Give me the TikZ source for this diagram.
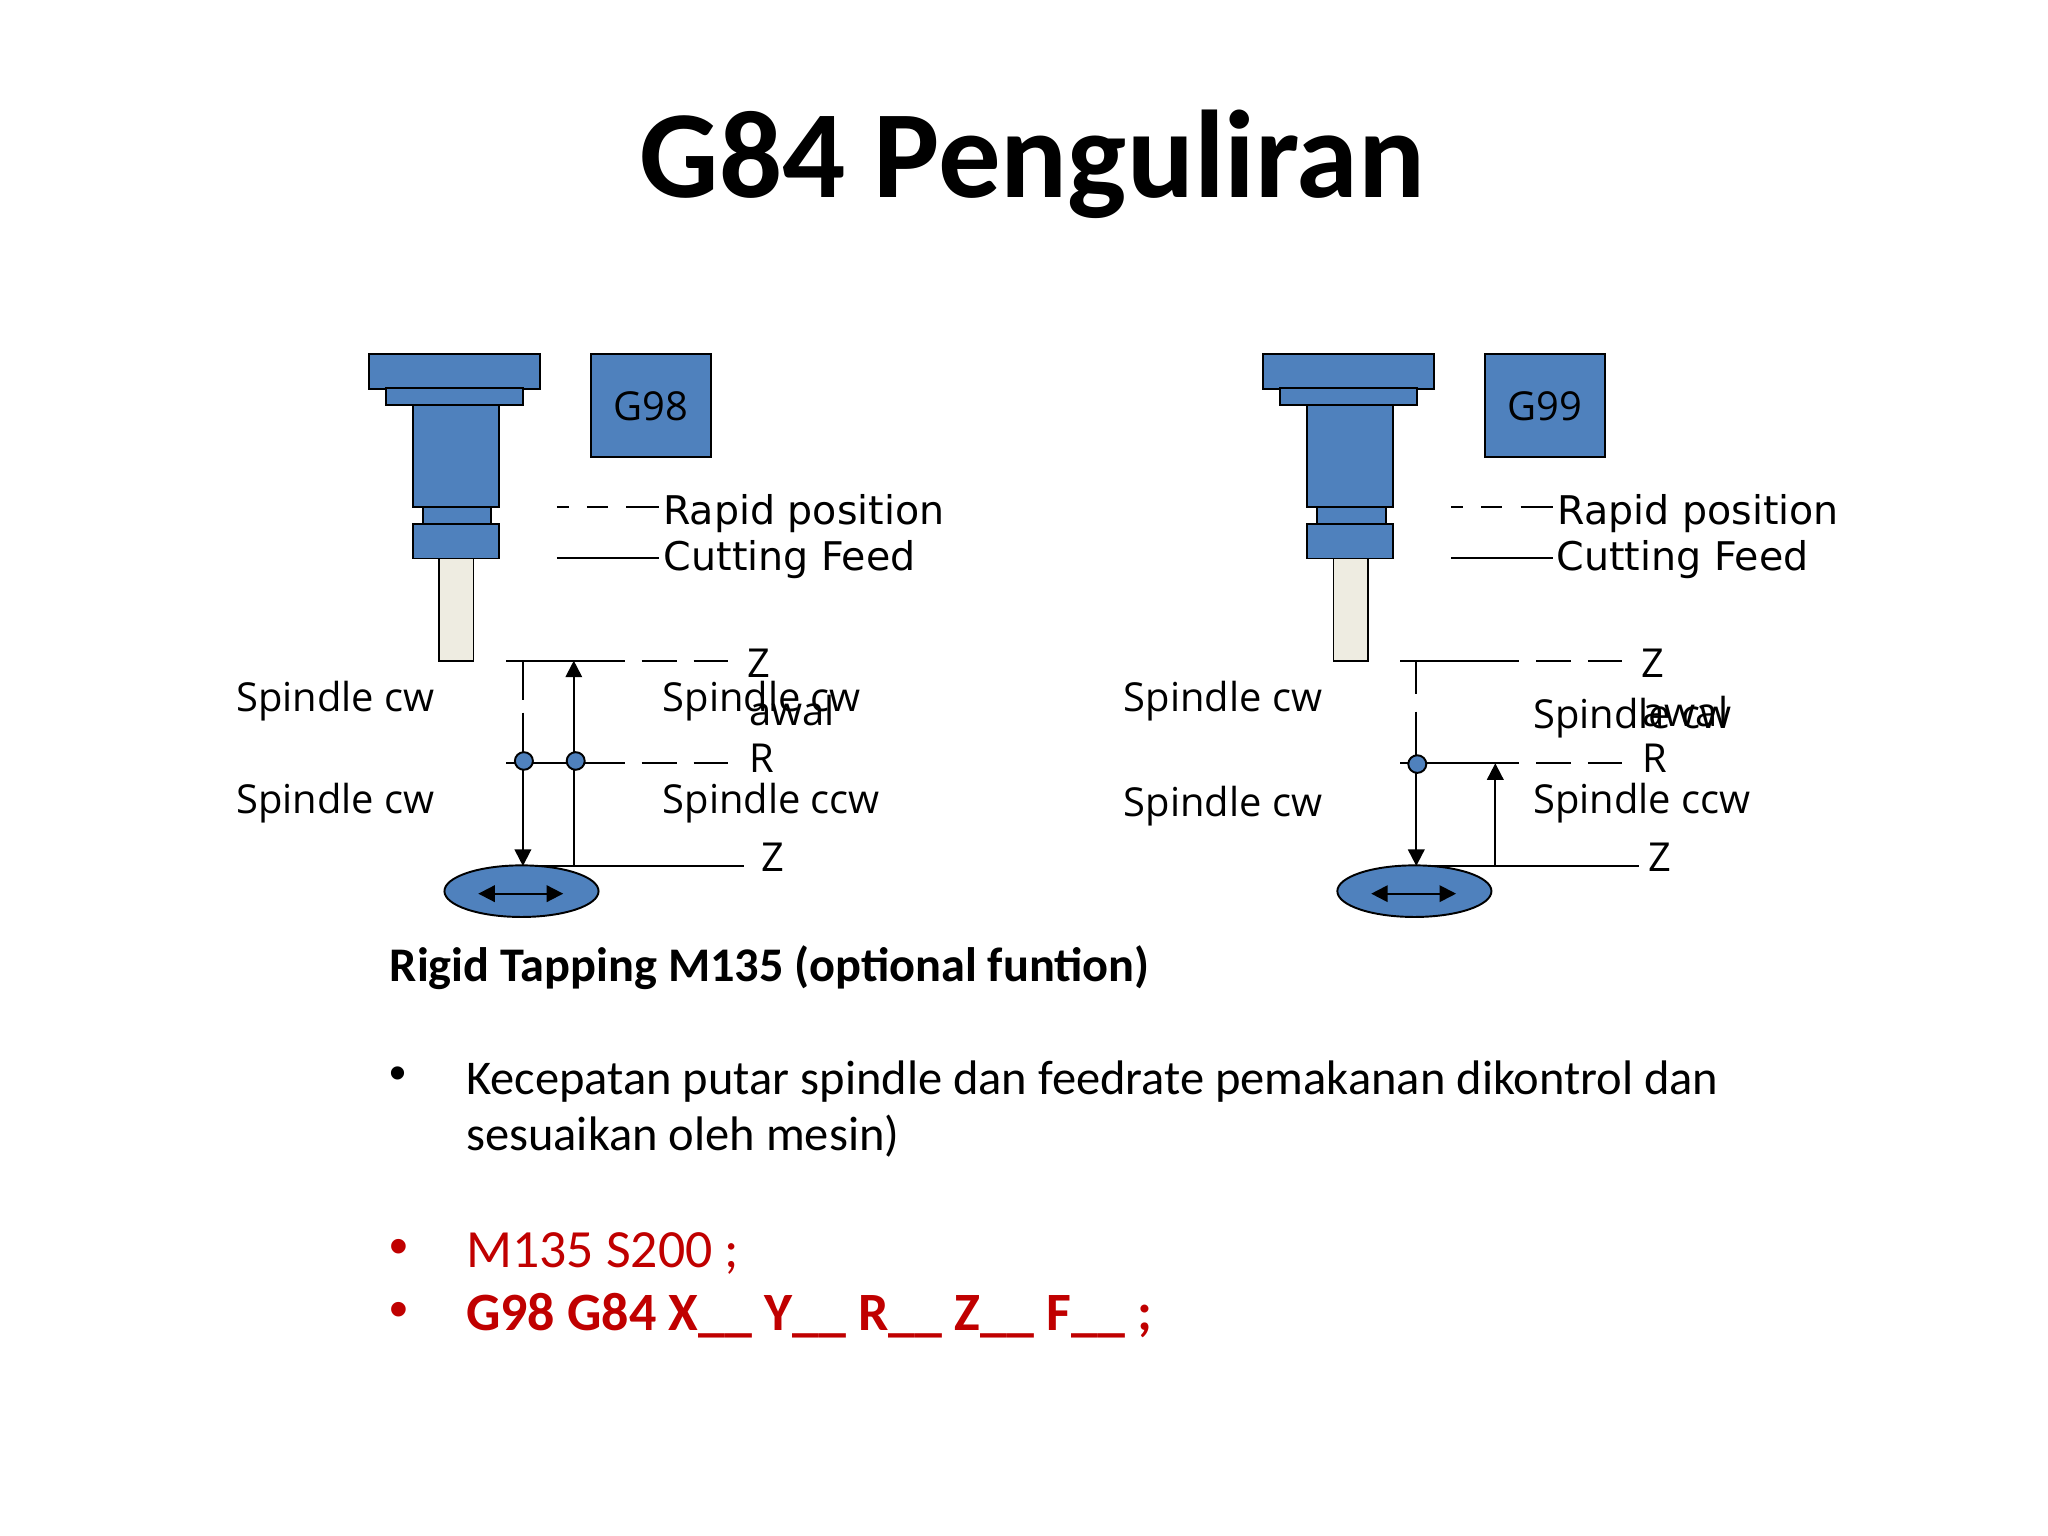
\documentclass[tikz,border=0pt]{standalone}
\usepackage{fontspec}
\usetikzlibrary{shapes.geometric, arrows.meta}
\setmainfont{Carlito}
\newfontfamily\labelfont{Open Sans}
\newfontfamily\legendfont{DejaVu Sans}
\newfontfamily\dotfont{Liberation Sans}
\definecolor{toolblue}{HTML}{4F81BD}
\definecolor{tapcream}{HTML}{EEECE1}
\definecolor{coderred}{HTML}{C00000}
\tikzset{
	part/.style={shape=rectangle, draw, line width=0.55pt, fill=toolblue, inner sep=0pt, outer sep=0pt},
	tapbit/.style={part, fill=tapcream},
	oval/.style={shape=ellipse, draw, line width=0.55pt, fill=toolblue, inner sep=0pt, outer sep=0pt},
	lbl/.style={anchor=base west, inner sep=0pt, yshift=-0.013cm, font=\labelfont\fontsize{11.35}{14}\selectfont},
	legendlbl/.style={anchor=base west, inner sep=0pt, yshift=-0.013cm, font=\legendfont\fontsize{11.25}{14}\selectfont},
	wire/.style={line width=0.55pt},
	level/.style={wire, dash pattern=on 1.187cm off 0.17cm on 0.348cm off 0.17cm on 0.34cm},
	legenddash/.style={wire, dash pattern=on 0.12cm off 0.18cm on 0.21cm off 0.184cm on 0.324cm},
	feed/.style={wire, -{Triangle[length=0.165cm, width=0.165cm]}},
	both/.style={wire, {Triangle[length=0.165cm, width=0.165cm]}-{Triangle[length=0.165cm, width=0.165cm]}},
	body/.style={anchor=base west, inner sep=0pt, yshift=-0.01cm, font=\fontsize{13.8}{16}\selectfont},
	bodyred/.style={body, text=coderred, font=\fontsize{15.3}{18}\selectfont}
}
\begin{document}
\begin{tikzpicture}
	\useasboundingbox (0, 0) rectangle (20.48, 15.36);
	% Title:
	\node[anchor=base, inner sep=0pt, font=\bfseries\fontsize{35.5}{40}\selectfont] (title) at (10.325, 13.385){G84 Penguliran};
	% Left tool, G98:
	\node[part, minimum width=1.716cm, minimum height=0.348cm] (flangeA) at (4.545, 11.648){};
	\node[part, minimum width=1.371cm, minimum height=0.168cm] (ringA) at (4.543, 11.393){};
	\node[part, minimum width=0.857cm, minimum height=1.022cm] (bodyA) at (4.558, 10.799){};
	\node[part, minimum width=0.689cm, minimum height=0.168cm] (neckA) at (4.57, 10.204){};
	\node[part, minimum width=0.857cm, minimum height=0.344cm] (collarA) at (4.558, 9.947){};
	\node[tapbit, minimum width=0.344cm, minimum height=1.022cm] (tapA) at (4.563, 9.264){};
	\node[part, minimum width=1.202cm, minimum height=1.029cm, text height=0.306cm, font=\labelfont\fontsize{11.35}{14}\selectfont] (modeA) at (6.507, 11.307){G98};
	\coordinate (rapidsA) at (5.568, 10.287);
	\coordinate (rapideA) at (6.586, 10.287);
	\coordinate (cutsA) at (5.568, 9.779);
	\coordinate (cuteA) at (6.586, 9.779);
	\draw[legenddash] (rapidsA) -- (rapideA);
	\draw[wire] (cutsA) -- (cuteA);
	\node[legendlbl] (rapidA) at (6.625, 10.131){Rapid position};
	\node[legendlbl] (cuttingA) at (6.632, 9.664){Cutting Feed};
	\coordinate (topsA) at (5.06, 8.753);
	\coordinate (topeA) at (7.275, 8.753);
	\coordinate (rsA) at (5.06, 7.727);
	\coordinate (reA) at (7.275, 7.727);
	\coordinate (botsA) at (5.06, 6.7);
	\coordinate (boteA) at (7.444, 6.7);
	\draw[level] (topsA) -- (topeA);
	\draw[level] (rsA) -- (reA);
	\draw[wire] (botsA) -- (boteA);
	\coordinate (downsA) at (5.229, 8.753);
	\coordinate (downeA) at (5.229, 6.7);
	\coordinate (upsA) at (5.738, 6.7);
	\coordinate (upeA) at (5.738, 8.753);
	\draw[feed, dash pattern=on 0.39cm off 0.13cm on 3cm] (downsA) -- (downeA);
	\draw[feed] (upsA) -- (upeA);
	\node[oval, minimum width=0.18cm, minimum height=0.176cm] (dotaA) at (5.239, 7.75){};
	\node[oval, minimum width=0.18cm, minimum height=0.176cm] (dotbA) at (5.757, 7.75){};
	\node[oval, minimum width=1.541cm, minimum height=0.516cm] (workA) at (5.215, 6.448){};
	\coordinate (shiftlA) at (4.783, 6.423);
	\coordinate (shiftrA) at (5.632, 6.423);
	\draw[both] (shiftlA) -- (shiftrA);
	\node[lbl] (cwaA) at (2.358, 8.256){Spindle cw};
	\node[lbl] (cwbA) at (2.358, 7.234){Spindle cw};
	\node[lbl] (cwcA) at (6.62, 8.256){Spindle cw};
	\node[lbl] (ccwA) at (6.62, 7.234){Spindle ccw};
	\node[lbl] (ztopA) at (7.47, 8.6){Z};
	\node[lbl] (awalA) at (7.483, 8.121){awal};
	\node[lbl] (rA) at (7.49, 7.647){R};
	\node[lbl] (zbotA) at (7.61, 6.66){Z};
	% Right tool, G99:
	\node[part, minimum width=1.716cm, minimum height=0.348cm] (flangeB) at (13.485, 11.648){};
	\node[part, minimum width=1.371cm, minimum height=0.168cm] (ringB) at (13.487, 11.393){};
	\node[part, minimum width=0.857cm, minimum height=1.022cm] (bodyB) at (13.502, 10.799){};
	\node[part, minimum width=0.689cm, minimum height=0.168cm] (neckB) at (13.514, 10.204){};
	\node[part, minimum width=0.857cm, minimum height=0.344cm] (collarB) at (13.502, 9.947){};
	\node[tapbit, minimum width=0.344cm, minimum height=1.022cm] (tapB) at (13.507, 9.264){};
	\node[part, minimum width=1.202cm, minimum height=1.029cm, text height=0.306cm, font=\labelfont\fontsize{11.35}{14}\selectfont] (modeB) at (15.447, 11.307){G99};
	\coordinate (rapidsB) at (14.512, 10.287);
	\coordinate (rapideB) at (15.53, 10.287);
	\coordinate (cutsB) at (14.512, 9.779);
	\coordinate (cuteB) at (15.53, 9.779);
	\draw[legenddash] (rapidsB) -- (rapideB);
	\draw[wire] (cutsB) -- (cuteB);
	\node[legendlbl] (rapidB) at (15.57, 10.131){Rapid position};
	\node[legendlbl] (cuttingB) at (15.561, 9.664){Cutting Feed};
	\coordinate (topsB) at (14.003, 8.753);
	\coordinate (topeB) at (16.218, 8.753);
	\coordinate (rsB) at (14.003, 7.727);
	\coordinate (reB) at (16.218, 7.727);
	\coordinate (botsB) at (14.003, 6.7);
	\coordinate (boteB) at (16.387, 6.7);
	\draw[level] (topsB) -- (topeB);
	\draw[level] (rsB) -- (reB);
	\draw[wire] (botsB) -- (boteB);
	\coordinate (downsB) at (14.163, 8.753);
	\coordinate (downeB) at (14.163, 6.7);
	\coordinate (upsB) at (14.953, 6.7);
	\coordinate (upeB) at (14.953, 7.727);
	\draw[feed, dash pattern=on 0.33cm off 0.18cm on 3cm] (downsB) -- (downeB);
	\draw[feed] (upsB) -- (upeB);
	\node[oval, minimum width=0.18cm, minimum height=0.176cm] (dotaB) at (14.173, 7.719){};
	\node[oval, minimum width=1.541cm, minimum height=0.516cm] (workB) at (14.144, 6.448){};
	\coordinate (shiftlB) at (13.712, 6.423);
	\coordinate (shiftrB) at (14.561, 6.423);
	\draw[both] (shiftlB) -- (shiftrB);
	\node[lbl] (cwaB) at (11.232, 8.256){Spindle cw};
	\node[lbl] (cwbB) at (11.232, 7.203){Spindle cw};
	\node[lbl] (cwcB) at (15.326, 8.087){Spindle cw};
	\node[lbl] (ccwB) at (15.326, 7.234){Spindle ccw};
	\node[lbl] (ztopB) at (16.41, 8.6){Z};
	\node[lbl] (awalB) at (16.42, 8.106){awal};
	\node[lbl] (rB) at (16.42, 7.647){R};
	\node[lbl] (zbotB) at (16.48, 6.66){Z};
	% Text below:
	\node[body, font=\bfseries\fontsize{13.75}{16}\selectfont] (rigid) at (3.891, 5.55){Rigid Tapping M135 (optional funtion)};
	\node[body, font=\dotfont\fontsize{13.8}{16}\selectfont] (bulleta) at (3.891, 4.47){•};
	\node[body] (kecepatan) at (4.655, 4.427){Kecepatan putar spindle dan feedrate pemakanan dikontrol dan};
	\node[body] (sesuaikan) at (4.655, 3.867){sesuaikan oleh mesin)};
	\node[bodyred, font=\dotfont\fontsize{15.3}{18}\selectfont] (bulletb) at (3.891, 2.72){•};
	\node[bodyred] (mcode) at (4.655, 2.69){M135 S200 ;};
	\node[bodyred, font=\dotfont\fontsize{15.3}{18}\selectfont] (bulletc) at (3.891, 2.09){•};
	\node[bodyred, font=\bfseries\fontsize{15.35}{18}\selectfont] (gcode) at (4.655, 2.06){G98 G84 X\_\_ Y\_\_ R\_\_ Z\_\_ F\_\_ ;};
\end{tikzpicture}
\end{document}
